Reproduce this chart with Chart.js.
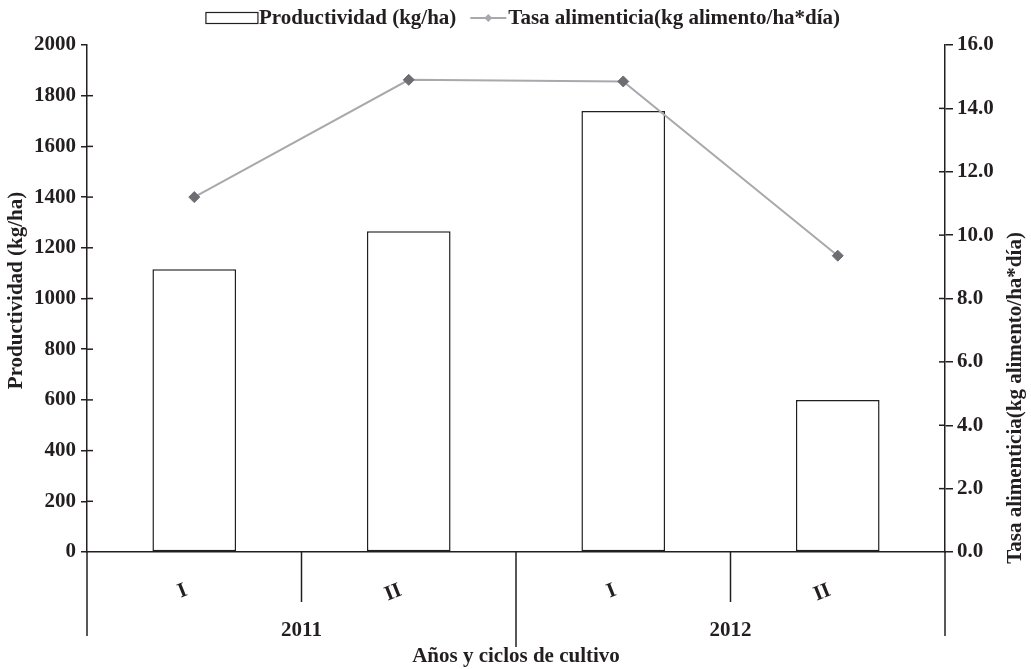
<!DOCTYPE html>
<html><head><meta charset="utf-8">
<script src="https://cdn.jsdelivr.net/npm/chart.js@4.4.1/dist/chart.umd.min.js"></script>
<style>html,body{margin:0;padding:0;background:#fff}#wrap{width:1031px;height:669px;position:relative}</style>
</head><body><div id="wrap"><canvas id="c" width="1031" height="669"></canvas></div>
<script>
const cycles = ['I', 'II', 'I', 'II'];
const years = ['2011', '2012'];
const productividad = [1115, 1265, 1740, 600];
const tasa = [11.2, 14.9, 14.85, 9.35];
const seriesNames = ['Productividad (kg/ha)', 'Tasa alimenticia(kg alimento/ha*día)'];
const leftTitle = 'Productividad (kg/ha)';
const rightTitle = 'Tasa alimenticia(kg alimento/ha*día)';
const xTitle = 'Años y ciclos de cultivo';

const INK = '#231f20';
const FAM = "'Liberation Serif', 'Times New Roman', serif";
const F = { family: FAM, size: 21, weight: 'bold' };

const decor = {
  id: 'decor',
  afterDraw(chart) {
    const { ctx, chartArea: a, scales } = chart;
    const x = scales.x, y = scales.y, y1 = scales.y1;
    ctx.save();
    ctx.strokeStyle = INK;
    ctx.lineWidth = 1.5;
    const seg = (x0, y0, x1, y1_) => { ctx.beginPath(); ctx.moveTo(x0, y0); ctx.lineTo(x1, y1_); ctx.stroke(); };
    // inner halves of the axis ticks
    y.ticks.forEach(t => { if (t.value === y.max || t.value === y.min) return; const p = y.getPixelForValue(t.value); seg(a.left, p, a.left + 6, p); });
    y1.ticks.forEach(t => { if (t.value === y1.max || t.value === y1.min) return; const p = y1.getPixelForValue(t.value); seg(a.right - 6, p, a.right, p); });
    // hierarchical category separators
    const n = cycles.length, per = n / years.length;
    for (let i = 0; i <= n; i++) {
      const px = x.getPixelForValue(i - 0.5);
      let len = 50;
      if (i % per === 0) len = (i === 0 || i === n) ? 84 : 95;
      seg(px, a.bottom, px, a.bottom + len);
    }
    ctx.font = 'bold 21px ' + FAM;
    ctx.fillStyle = INK;
    ctx.textBaseline = 'middle';
    ctx.textAlign = 'center';
    // vertical axis titles (both read bottom to top)
    ctx.save();
    ctx.translate(17, (a.top + a.bottom) / 2 - 8);
    ctx.rotate(-Math.PI / 2);
    ctx.fillText(leftTitle, 0, 0);
    ctx.restore();
    ctx.save();
    ctx.translate(1016, 398);
    ctx.rotate(-Math.PI / 2);
    ctx.fillText(rightTitle, 0, 0);
    ctx.restore();
    // legend
    ctx.textAlign = 'left';
    const w1 = ctx.measureText(seriesNames[0]).width;
    const w2 = ctx.measureText(seriesNames[1]).width;
    const total = 52 + 1 + w1 + 14 + 36 + 2 + w2;
    let lx = (a.left + a.right) / 2 + 7 - total / 2;
    const ly = 18;
    ctx.lineWidth = 1.2;
    ctx.strokeRect(lx, ly - 5.5, 52, 11);
    lx += 53;
    ctx.fillText(seriesNames[0], lx, ly + 1);
    lx += w1 + 14;
    ctx.strokeStyle = '#a7a9ac';
    ctx.lineWidth = 2;
    seg(lx, ly, lx + 36, ly);
    ctx.fillStyle = '#a7a9ac';
    ctx.beginPath();
    ctx.moveTo(lx + 18 - 4, ly); ctx.lineTo(lx + 18, ly - 4); ctx.lineTo(lx + 18 + 4, ly); ctx.lineTo(lx + 18, ly + 4); ctx.closePath(); ctx.fill();
    lx += 38;
    ctx.fillStyle = INK;
    ctx.fillText(seriesNames[1], lx, ly + 1);
    ctx.restore();
  }
};

new Chart(document.getElementById('c'), {
  data: {
    labels: cycles,
    datasets: [
      {
        type: 'line', label: seriesNames[1], data: tasa, yAxisID: 'y1', xAxisID: 'x', order: 0,
        borderColor: '#a7a9ac', borderWidth: 2, tension: 0,
        pointStyle: 'rectRot', pointRadius: 5.5, pointBackgroundColor: '#6d6e71', pointBorderColor: '#6d6e71', pointBorderWidth: 1
      },
      {
        type: 'bar', label: seriesNames[0], data: productividad, yAxisID: 'y', xAxisID: 'x', order: 1,
        backgroundColor: '#ffffff', borderColor: INK, borderWidth: 1.5, borderSkipped: false,
        barPercentage: 0.39, categoryPercentage: 1
      }
    ]
  },
  options: {
    responsive: false, animation: false, devicePixelRatio: 1,
    layout: { padding: { top: 45, left: 0, right: 0, bottom: 0 } },
    plugins: { legend: { display: false }, tooltip: { enabled: false } },
    scales: {
      x: {
        type: 'category', position: 'bottom', offset: true, weight: 0,
        grid: { display: false, offset: true },
        border: { display: true, color: INK, width: 1.5 },
        ticks: { font: F, color: INK, minRotation: 22, maxRotation: 22, padding: 18, labelOffset: -8, autoSkip: false },
        afterFit: s => { s.height = 60; }
      },
      x2: {
        type: 'category', position: 'bottom', labels: years, offset: true, weight: 1,
        grid: { display: false, drawTicks: false }, border: { display: false },
        ticks: { font: F, color: INK, maxRotation: 0, padding: 6 },
        title: { display: true, text: xTitle, font: F, color: INK, padding: { top: 0, bottom: 0 } },
        afterFit: s => { s.height = 57; }
      },
      y: {
        position: 'left', min: 0, max: 2000,
        ticks: { stepSize: 200, font: F, color: INK, padding: 5, callback: v => String(v) },
        grid: { drawOnChartArea: false, tickLength: 6, color: INK, lineWidth: 1.5 },
        border: { color: INK, width: 1.5 },
        afterFit: s => { s.width = 87; }
      },
      y1: {
        position: 'right', min: 0, max: 16,
        ticks: { stepSize: 2, font: F, color: INK, padding: 4, callback: v => Number(v).toFixed(1) },
        grid: { drawOnChartArea: false, tickLength: 8, color: INK, lineWidth: 1.5 },
        border: { color: INK, width: 1.5 },
        afterFit: s => { s.width = 86; }
      }
    }
  },
  plugins: [decor]
});
</script>
</body></html>
